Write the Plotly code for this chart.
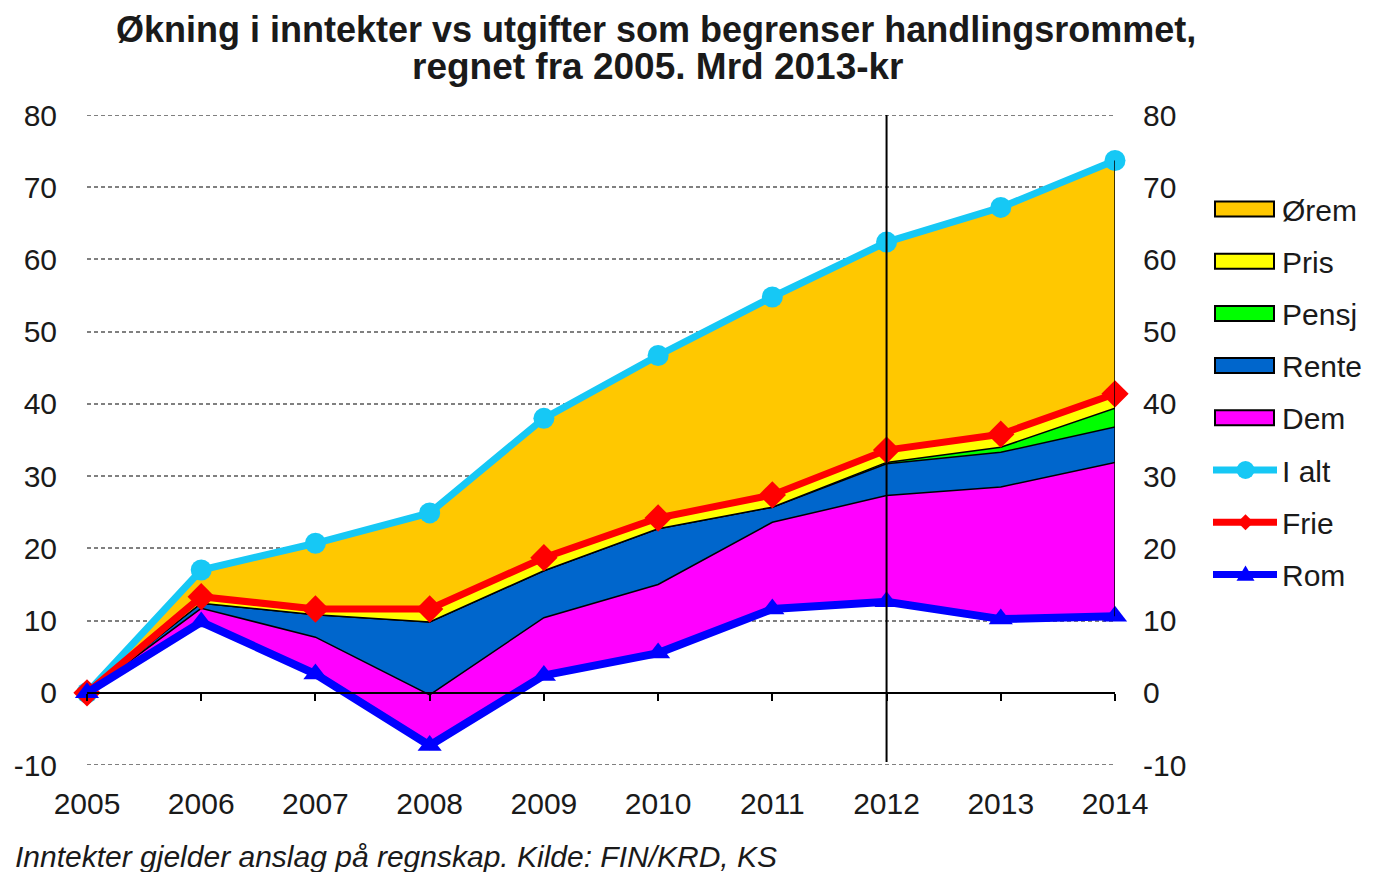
import plotly.graph_objects as go

years = [2005, 2006, 2007, 2008, 2009, 2010, 2011, 2012, 2013, 2014]
year_labels = [str(y) for y in years]

# Stacked components (Mrd 2013-kr)
rom   = [0, 9.8, 2.6, -7.3, 2.4, 5.5, 11.6, 12.6, 10.2, 10.6]
dem   = [0, 1.9, 5.1, 7.0, 8.0, 9.5, 12.0, 14.7, 18.3, 21.3]
rente = [0, 0.7, 3.1, 10.1, 6.5, 7.7, 2.1, 4.4, 4.8, 4.9]
pensj = [0, 0.0, 0.0, 0.0, 0.0, 0.0, 0.0, 0.2, 0.7, 2.6]
pris  = [0, 0.9, 0.8, 1.8, 1.8, 1.5, 1.7, 1.7, 1.8, 2.0]
orem  = [0, 3.7, 9.1, 13.3, 19.3, 22.5, 27.4, 28.8, 31.4, 32.3]

# Line series
frie  = [0, 13.3, 11.6, 11.6, 18.7, 24.2, 27.4, 33.6, 35.8, 41.4]
i_alt = [0, 17.0, 20.7, 24.9, 38.0, 46.7, 54.8, 62.4, 67.2, 73.7]

y_ticks = [-10, 0, 10, 20, 30, 40, 50, 60, 70, 80]
y_tick_labels = ["-10", "0", "10", "20", "30", "40", "50", "60", "70", "80"]
marker_year = 2012

FONT = "Liberation Sans, Arial, sans-serif"
TXT = "#1a1a1a"

C_OREM, C_PRIS, C_PENSJ, C_RENTE, C_DEM = "#FFC800", "#FFFF00", "#00FF00", "#0066CC", "#FF00FF"
C_IALT, C_FRIE, C_ROM = "#16C8F5", "#FF0000", "#0000FF"
GRID = "#808080"
GRID_DASH = "4px,3px"

# plot area in page pixels (page has an 8px body margin)
PL, PT, PW, PH = 87, 115, 1028, 650


def px(x):
    return (x - PL) / PW


def py(y):
    return (PT + PH - y) / PH


fig = go.Figure()

# gridlines at the range edges (plotly omits them)
for yv in (y_ticks[0], y_ticks[-1]):
    fig.add_shape(type="line", xref="x", yref="y", x0=years[0], x1=years[-1],
                  y0=yv, y1=yv, line=dict(color=GRID, width=2, dash=GRID_DASH),
                  layer="below")

# invisible base of the stack (Rom)
fig.add_trace(go.Scatter(x=years, y=rom, stackgroup="s", mode="lines",
                         line=dict(width=0, color="rgba(0,0,0,0)"),
                         fillcolor="rgba(0,0,0,0)", hoverinfo="skip"))

areas = [
    ("Dem", dem, C_DEM),
    ("Rente", rente, C_RENTE),
    ("Pensj", pensj, C_PENSJ),
    ("Pris", pris, C_PRIS),
    ("Ørem", orem, C_OREM),
]
for name, vals, col in areas:
    fig.add_trace(go.Scatter(x=years, y=vals, stackgroup="s", mode="lines",
                             name=name, fillcolor=col,
                             line=dict(color="black", width=1.5)))

# right-hand border of the stacked areas
fig.add_shape(type="line", xref="x", yref="y", x0=years[-1], x1=years[-1],
              y0=rom[-1], y1=i_alt[-1], line=dict(color="black", width=1.5))

lines = [
    ("I alt", i_alt, C_IALT, "circle", 21, 7),
    ("Frie", frie, C_FRIE, "diamond", 21, 7),
    ("Rom", rom, C_ROM, "triangle-up", 21, 8),
]
for name, vals, col, sym, size, w in lines:
    fig.add_trace(go.Scatter(x=years, y=vals, mode="lines+markers", name=name,
                             line=dict(color=col, width=w),
                             marker=dict(symbol=sym, size=size, color=col),
                             cliponaxis=False))

# helper traces for right axis and zero-line axis
fig.add_trace(go.Scatter(x=years, y=i_alt, yaxis="y2", mode="lines",
                         line=dict(width=0), hoverinfo="skip"))
fig.add_trace(go.Scatter(x=years, y=i_alt, xaxis="x2", mode="lines",
                         line=dict(width=0), hoverinfo="skip"))

fig.add_shape(type="line", xref="x", yref="y", x0=marker_year, x1=marker_year,
              y0=-9.6, y1=81.0, line=dict(color="black", width=2), layer="above")

# ---- manual legend ----
legend_items = [
    ("Ørem", "rect", C_OREM),
    ("Pris", "rect", C_PRIS),
    ("Pensj", "rect", C_PENSJ),
    ("Rente", "rect", C_RENTE),
    ("Dem", "rect", C_DEM),
    ("I alt", "circle", C_IALT),
    ("Frie", "diamond", C_FRIE),
    ("Rom", "triangle", C_ROM),
]
LX0, LX1, LTX = 1215, 1274, 1280
LY0, LDY = 209, 52.2
for i, (name, kind, col) in enumerate(legend_items):
    cy = LY0 + i * LDY
    if kind == "rect":
        fig.add_shape(type="rect", xref="paper", yref="paper",
                      x0=px(LX0), x1=px(LX1), y0=py(cy + 7.5), y1=py(cy - 7.5),
                      fillcolor=col, line=dict(color="black", width=2))
    else:
        fig.add_shape(type="line", xref="paper", yref="paper",
                      x0=px(LX0 - 2), x1=px(LX1 + 3), y0=py(cy), y1=py(cy),
                      line=dict(color=col, width=7))
        cx = (LX0 + LX1) / 2 + 1
        if kind == "circle":
            r = 9
            fig.add_shape(type="circle", xref="paper", yref="paper",
                          x0=px(cx - r), x1=px(cx + r), y0=py(cy + r), y1=py(cy - r),
                          fillcolor=col, line=dict(color=col, width=0))
        elif kind == "diamond":
            r = 8
            pts = [(cx, cy - r), (cx + r, cy), (cx, cy + r), (cx - r, cy)]
            path = "M" + " L".join(f"{px(a)},{py(b)}" for a, b in pts) + " Z"
            fig.add_shape(type="path", xref="paper", yref="paper", path=path,
                          fillcolor=col, line=dict(color=col, width=0))
        else:
            r = 9
            pts = [(cx, cy - r), (cx + r, cy + r * 0.7), (cx - r, cy + r * 0.7)]
            path = "M" + " L".join(f"{px(a)},{py(b)}" for a, b in pts) + " Z"
            fig.add_shape(type="path", xref="paper", yref="paper", path=path,
                          fillcolor=col, line=dict(color=col, width=0))
    fig.add_annotation(text=name, xref="paper", yref="paper", x=px(LTX), y=py(cy + 1),
                       xanchor="left", yanchor="middle", showarrow=False,
                       font=dict(size=30, family=FONT, color=TXT))

# ---- titles / footnote ----
fig.add_annotation(text="<b>Økning i inntekter vs utgifter som begrenser handlingsrommet,</b>",
                   xref="paper", yref="paper", x=px(656), y=py(29),
                   xanchor="center", yanchor="middle", showarrow=False,
                   font=dict(size=36, family=FONT, color=TXT))
fig.add_annotation(text="<b>regnet fra 2005. Mrd 2013-kr</b>",
                   xref="paper", yref="paper", x=px(658), y=py(66),
                   xanchor="center", yanchor="middle", showarrow=False,
                   font=dict(size=37, family=FONT, color=TXT))
fig.add_annotation(text="<i>Inntekter gjelder anslag på regnskap. Kilde: FIN/KRD, KS</i>",
                   xref="paper", yref="paper", x=px(13), y=py(856),
                   xanchor="left", yanchor="middle", showarrow=False,
                   font=dict(size=30, family=FONT, color=TXT))

yr = [-10, 80]
fig.update_layout(
    width=1373, height=872,
    paper_bgcolor="white", plot_bgcolor="white",
    margin=dict(l=PL - 8, r=1373 - (PL - 8) - PW, t=PT - 8, b=872 - (PT - 8) - PH,
                autoexpand=False),
    font=dict(family=FONT, color=TXT),
    showlegend=False,
    xaxis=dict(range=[2005, 2014], tickvals=years, ticktext=year_labels,
               showgrid=False, zeroline=False, showline=False, ticks="",
               tickfont=dict(size=30), ticklabelstandoff=18, automargin=False),
    xaxis2=dict(range=[2005, 2014], overlaying="x", anchor="free",
                position=(0 - yr[0]) / (yr[1] - yr[0]),
                tickvals=years, showticklabels=False, showline=True,
                linecolor="black", linewidth=2, ticks="outside", ticklen=7,
                tickcolor="black", tickwidth=1.5, showgrid=False, zeroline=False,
                layer="above traces", automargin=False),
    yaxis=dict(range=yr, tickvals=y_ticks, ticktext=y_tick_labels,
               showgrid=True, gridcolor=GRID,
               griddash=GRID_DASH, gridwidth=2, zeroline=False, showline=False,
               tickfont=dict(size=30), ticklabelstandoff=29, automargin=False),
    yaxis2=dict(range=yr, tickvals=y_ticks, ticktext=y_tick_labels,
                overlaying="y", side="right",
                showgrid=False, zeroline=False, showline=False,
                tickfont=dict(size=30), ticklabelstandoff=27, automargin=False),
)

fig.write_html("out.html")
